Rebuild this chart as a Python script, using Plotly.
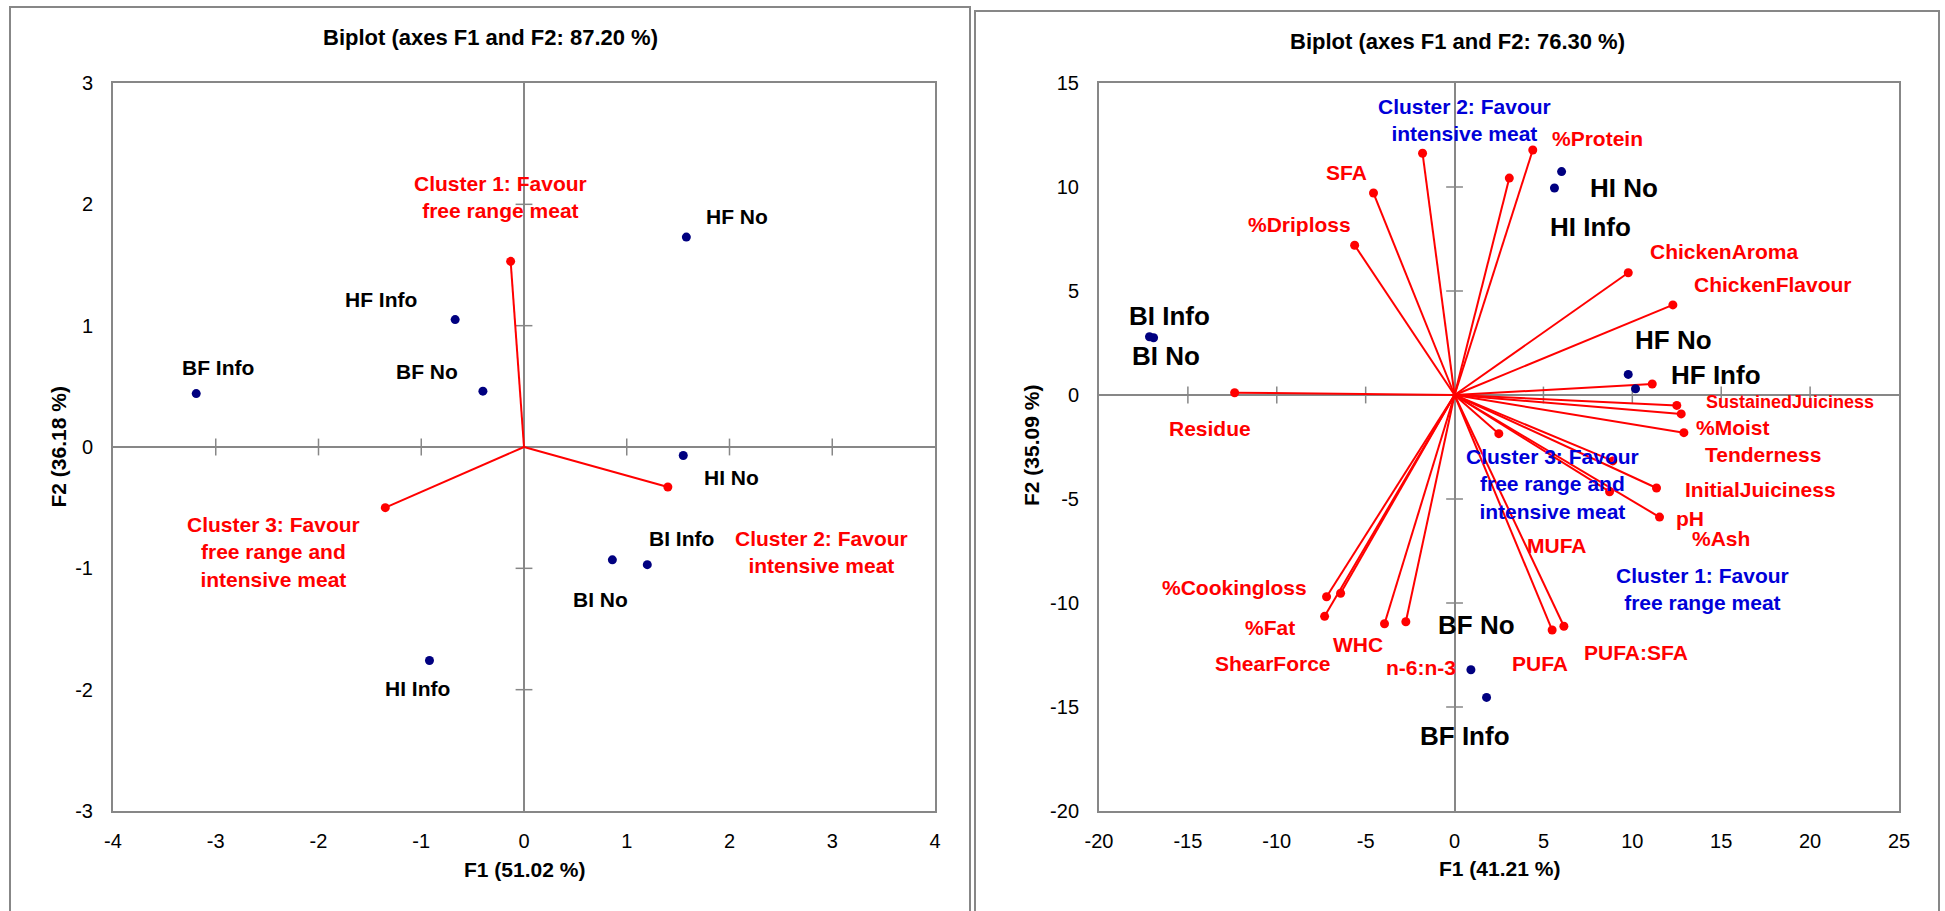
import plotly.graph_objects as go

# ---------------- data: left biplot ----------------
left_obs_names = ["HF No", "HF Info", "BF Info", "BF No", "HI No", "BI Info", "BI No", "HI Info"]
left_obs_f1 = [1.58, -0.67, -3.19, -0.40, 1.55, 1.20, 0.86, -0.92]
left_obs_f2 = [1.73, 1.05, 0.44, 0.46, -0.07, -0.97, -0.93, -1.76]

left_var_names = ["Cluster 1: Favour<br>free range meat",
                  "Cluster 2: Favour<br>intensive meat",
                  "Cluster 3: Favour<br>free range and<br>intensive meat"]
left_var_f1 = [-0.13, 1.40, -1.35]
left_var_f2 = [1.53, -0.33, -0.50]

left_ticks_x = [-4, -3, -2, -1, 0, 1, 2, 3, 4]
left_ticks_y = [-3, -2, -1, 0, 1, 2, 3]

# ---------------- data: right biplot ----------------
right_obs_names = ["HI No", "HI Info", "BI Info", "BI No", "HF No", "HF Info", "BF No", "BF Info"]
right_obs_f1 = [6.02, 5.62, -17.16, -16.93, 9.77, 10.18, 0.92, 1.80]
right_obs_f2 = [10.74, 9.95, 2.80, 2.75, 0.99, 0.30, -13.21, -14.54]

right_var_names = ["Residue", "%Driploss", "SFA", "Cluster 2: Favour<br>intensive meat", "",
                   "%Protein", "ChickenAroma", "ChickenFlavour", "Cluster 1: Favour<br>free range meat",
                   "SustainedJuiciness", "%Moist", "Tenderness", "InitialJuiciness", "pH",
                   "MUFA", "%Ash", "Cluster 3: Favour<br>free range and<br>intensive meat",
                   "PUFA", "PUFA:SFA", "%Cookingloss", "ShearForce", "%Fat", "WHC", "n-6:n-3"]
right_var_f1 = [-12.37, -5.62, -4.56, -1.80, 3.08, 4.40, 9.77, 12.28, 11.12, 12.50, 12.75, 12.90,
                11.36, 11.53, 8.72, 8.90, 2.49, 5.49, 6.15, -7.20, -6.41, -7.31, -3.94, -2.74]
right_var_f2 = [0.11, 7.20, 9.71, 11.62, 10.43, 11.78, 5.88, 4.33, 0.53, -0.50, -0.91, -1.81,
                -4.47, -5.87, -4.65, -3.17, -1.86, -11.30, -11.12, -9.70, -9.53, -10.64, -11.00, -10.90]

right_ticks_x = [-20, -15, -10, -5, 0, 5, 10, 15, 20, 25]
right_ticks_y = [-20, -15, -10, -5, 0, 5, 10, 15]

# ---------------- label placement (pixel offsets: right, down) ----------------
left_obs_off = {"HF No": (51, -21), "HF Info": (-74, -20), "BF Info": (22, -26), "BF No": (-56, -20),
                "HI No": (48, 22), "BI Info": (34, -26), "BI No": (-12, 40), "HI Info": (-12, 28)}
left_var_off = [(-10, -64), (154, 65), (-112, 44)]

right_obs_off = {"HI No": (62, 16), "HI Info": (36, 39), "BI Info": (20, -21), "BI No": (12, 18),
                 "HF No": (45, -34), "HF Info": (80, -14), "BF No": (6, -45), "BF Info": (-22, 39)}
right_var_off = {"Residue": (-25, 36), "%Driploss": (-55, -21), "SFA": (-27, -21),
                 "Cluster 2: Favour<br>intensive meat": (42, -33), "%Protein": (65, -11),
                 "ChickenAroma": (96, -21), "ChickenFlavour": (100, -20),
                 "Cluster 1: Favour<br>free range meat": (50, 205),
                 "SustainedJuiciness": (113, -3), "%Moist": (52, 14), "Tenderness": (79, 22),
                 "InitialJuiciness": (104, 2), "pH": (30, 1), "MUFA": (-53, 54), "%Ash": (108, 78),
                 "Cluster 3: Favour<br>free range and<br>intensive meat": (54, 50),
                 "PUFA": (-12, 33), "PUFA:SFA": (72, 26), "%Cookingloss": (-92, -9),
                 "ShearForce": (-68, 70), "%Fat": (-55, 11), "WHC": (-27, 21), "n-6:n-3": (15, 46)}

W, H = 1945, 911
FONT = "Liberation Sans, Arial, sans-serif"
GRAY = "#878787"
RED = "#FF0000"
NAVY = "#000080"
BLUE = "#0000D8"


def px(x):
    return x / W


def py(y):
    return 1 - y / H


fig = go.Figure()


def add_biplot(xa, ya, obs_x, obs_y, var_x, var_y, tx, ty):
    inner_x = [t for t in tx[1:-1] if t != 0]
    inner_y = [t for t in ty[1:-1] if t != 0]
    # cross tick marks on the zero axes
    fig.add_trace(go.Scatter(x=inner_x, y=[0] * len(inner_x), mode="markers", xaxis=xa, yaxis=ya,
                             hoverinfo="skip",
                             marker=dict(symbol="line-ns", size=12, line=dict(color=GRAY, width=1.5))))
    fig.add_trace(go.Scatter(x=[0] * len(inner_y), y=inner_y, mode="markers", xaxis=xa, yaxis=ya,
                             hoverinfo="skip",
                             marker=dict(symbol="line-ew", size=12, line=dict(color=GRAY, width=1.5))))
    lx, ly = [], []
    for a, b in zip(var_x, var_y):
        lx += [0, a, None]
        ly += [0, b, None]
    fig.add_trace(go.Scatter(x=lx, y=ly, mode="lines", xaxis=xa, yaxis=ya, hoverinfo="skip",
                             line=dict(color=RED, width=2)))
    fig.add_trace(go.Scatter(x=var_x, y=var_y, mode="markers", xaxis=xa, yaxis=ya,
                             marker=dict(color=RED, size=9)))
    fig.add_trace(go.Scatter(x=obs_x, y=obs_y, mode="markers", xaxis=xa, yaxis=ya,
                             marker=dict(color=NAVY, size=9)))


add_biplot("x", "y", left_obs_f1, left_obs_f2, left_var_f1, left_var_f2, left_ticks_x, left_ticks_y)
add_biplot("x2", "y2", right_obs_f1, right_obs_f2, right_var_f1, right_var_f2, right_ticks_x, right_ticks_y)

ann = []


def lab(xr, yr, x, y, text, off, size, color):
    ann.append(dict(x=x, y=y, xref=xr, yref=yr, text=text, showarrow=False,
                    xshift=off[0], yshift=-off[1], align="center",
                    font=dict(family=FONT, size=size, color=color, weight="bold")))


for n, a, b in zip(left_obs_names, left_obs_f1, left_obs_f2):
    lab("x", "y", a, b, n, left_obs_off[n], 21, "black")
for n, a, b, o in zip(left_var_names, left_var_f1, left_var_f2, left_var_off):
    lab("x", "y", a, b, n, o, 21, RED)
for n, a, b in zip(right_obs_names, right_obs_f1, right_obs_f2):
    lab("x2", "y2", a, b, n, right_obs_off[n], 26, "black")
for n, a, b in zip(right_var_names, right_var_f1, right_var_f2):
    if not n:
        continue
    if n.startswith("Cluster"):
        lab("x2", "y2", a, b, n, right_var_off[n], 21, BLUE)
    elif n == "SustainedJuiciness":
        lab("x2", "y2", a, b, n, right_var_off[n], 18, RED)
    else:
        lab("x2", "y2", a, b, n, right_var_off[n], 21, RED)


def ptext(x, y, text, size=21, angle=0):
    ann.append(dict(x=px(x), y=py(y), xref="paper", yref="paper", text=text, showarrow=False,
                    textangle=angle, xanchor="center", yanchor="middle",
                    font=dict(family=FONT, size=size, color="black", weight="bold")))


ptext(490.5, 38, "Biplot (axes F1 and F2: 87.20 %)", size=22)
ptext(1457, 42, "Biplot (axes F1 and F2: 76.30 %)", size=22)
ptext(524, 869, "F1 (51.02 %)")
ptext(57.5, 447, "F2 (36.18 %)", angle=-90)
ptext(1499, 868, "F1 (41.21 %)")
ptext(1031, 446, "F2 (35.09 %)", angle=-90)

axis_common = dict(showgrid=False, zeroline=True, zerolinecolor=GRAY, zerolinewidth=2,
                   showline=True, mirror=True, linecolor=GRAY, linewidth=2, ticks="",
                   automargin=False,
                   tickfont=dict(family=FONT, size=20, color="black"))


def labels(vals):
    return [str(v).replace("\u2212", "-") for v in vals]


fig.update_layout(
    width=W, height=H, margin=dict(l=0, r=0, t=0, b=0, pad=0), autosize=False,
    paper_bgcolor="white", plot_bgcolor="white", showlegend=False,
    xaxis=dict(domain=[px(113), px(935)], range=[-4, 4], tickvals=left_ticks_x,
               ticktext=labels(left_ticks_x), anchor="y", ticklabelstandoff=11, **axis_common),
    yaxis=dict(domain=[py(811), py(83)], range=[-3, 3], tickvals=left_ticks_y,
               ticktext=labels(left_ticks_y), anchor="x", ticklabelstandoff=14, **axis_common),
    xaxis2=dict(domain=[px(1099), px(1899)], range=[-20, 25], tickvals=right_ticks_x,
                ticktext=labels(right_ticks_x), anchor="y2", ticklabelstandoff=11, **axis_common),
    yaxis2=dict(domain=[py(811), py(83)], range=[-20, 15], tickvals=right_ticks_y,
                ticktext=labels(right_ticks_y), anchor="x2", ticklabelstandoff=14, **axis_common),
    annotations=ann,
    shapes=[
        dict(type="rect", xref="paper", yref="paper", x0=px(10), x1=px(970), y0=py(7), y1=py(940),
             line=dict(color=GRAY, width=2), layer="below"),
        dict(type="rect", xref="paper", yref="paper", x0=px(975), x1=px(1939), y0=py(11), y1=py(940),
             line=dict(color=GRAY, width=2), layer="below"),
    ],
)

fig.write_html("out.html", config={"displayModeBar": False},
               post_script="document.body.style.margin='0px';document.body.style.overflow='hidden';")
